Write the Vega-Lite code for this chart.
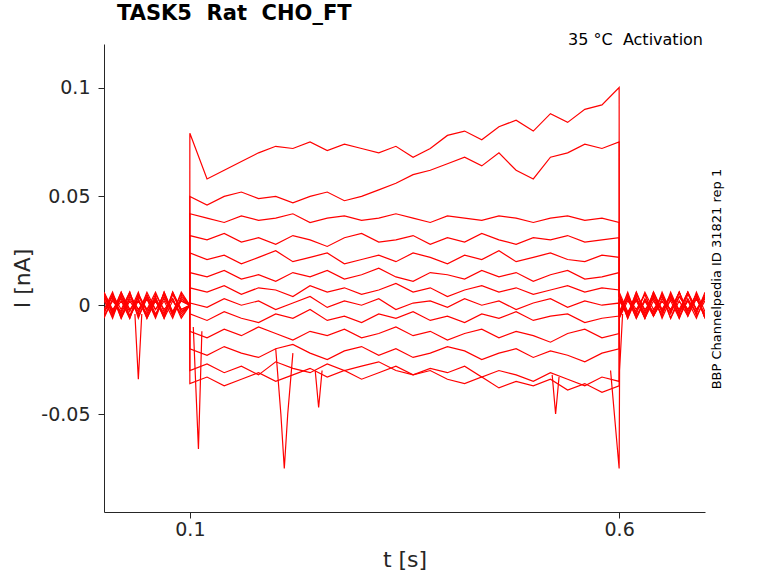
{
  "$schema": "https://vega.github.io/schema/vega-lite/v6.json",
  "width": 601,
  "height": 468,
  "autosize": {"type": "none"},
  "padding": {"left": 104, "top": 44, "right": 73, "bottom": 71},
  "background": "white",
  "config": {"font": "DejaVu Sans", "view": {"stroke": null}},
  "title": {"text": "TASK5\u00a0 Rat\u00a0 CHO_FT", "anchor": "start", "frame": "group", "dx": 13, "fontSize": 21, "fontWeight": "bold", "color": "black", "offset": 8},
  "layer": [
    {
      "data": {"values": [
        {"k": 1, "t": [0,0.01,0.02,0.03,0.04,0.05,0.06,0.07,0.08,0.09,0.0999,0.1,0.12,0.14,0.16,0.18,0.2,0.22,0.24,0.26,0.28,0.3,0.32,0.34,0.36,0.38,0.4,0.42,0.44,0.46,0.48,0.5,0.52,0.54,0.56,0.58,0.6,0.6001,0.61,0.62,0.63,0.64,0.65,0.66,0.67,0.68,0.69,0.7],
         "i": [0.004,-0.003,0.006,-0.005,0.002,-0.004,0.005,-0.002,0.003,-0.006,0.0,0.079,0.058,0.062,0.066,0.07,0.073,0.072,0.075,0.071,0.074,0.072,0.07,0.073,0.068,0.072,0.078,0.08,0.076,0.082,0.085,0.08,0.088,0.084,0.09,0.092,0.1,0.004,-0.005,0.006,-0.003,0.005,-0.006,0.003,-0.004,0.006,-0.002,0.004]},
        {"k": 2, "t": [0,0.01,0.02,0.03,0.04,0.05,0.06,0.07,0.08,0.09,0.0999,0.1,0.12,0.14,0.16,0.18,0.2,0.22,0.24,0.26,0.28,0.3,0.32,0.34,0.36,0.38,0.4,0.42,0.44,0.46,0.48,0.5,0.52,0.54,0.56,0.58,0.6,0.6001,0.61,0.62,0.63,0.64,0.65,0.66,0.67,0.68,0.69,0.7],
         "i": [-0.004,0.005,-0.002,0.006,-0.005,0.003,-0.006,0.004,-0.003,0.005,0.0,0.05,0.046,0.05,0.052,0.049,0.05,0.047,0.05,0.052,0.048,0.05,0.053,0.056,0.06,0.062,0.065,0.068,0.064,0.07,0.062,0.058,0.068,0.07,0.074,0.072,0.075,-0.005,0.004,-0.006,0.003,-0.004,0.005,-0.003,0.006,-0.005,0.003,-0.004]},
        {"k": 3, "t": [0,0.01,0.02,0.03,0.04,0.05,0.06,0.07,0.08,0.09,0.0999,0.1,0.12,0.14,0.16,0.18,0.2,0.22,0.24,0.26,0.28,0.3,0.32,0.34,0.36,0.38,0.4,0.42,0.44,0.46,0.48,0.5,0.52,0.54,0.56,0.58,0.6,0.6001,0.61,0.62,0.63,0.64,0.65,0.66,0.67,0.68,0.69,0.7],
         "i": [0.006,-0.002,0.003,-0.006,0.005,-0.003,0.002,-0.005,0.006,-0.002,0.0,0.042,0.04,0.038,0.041,0.039,0.04,0.042,0.038,0.04,0.041,0.039,0.04,0.042,0.04,0.038,0.041,0.04,0.039,0.041,0.04,0.038,0.04,0.041,0.039,0.04,0.038,0.006,-0.003,0.002,-0.006,0.004,-0.002,0.005,-0.006,0.003,-0.004,0.006]},
        {"k": 4, "t": [0,0.01,0.02,0.03,0.04,0.05,0.06,0.07,0.08,0.09,0.0999,0.1,0.12,0.14,0.16,0.18,0.2,0.22,0.24,0.26,0.28,0.3,0.32,0.34,0.36,0.38,0.4,0.42,0.44,0.46,0.48,0.5,0.52,0.54,0.56,0.58,0.6,0.6001,0.61,0.62,0.63,0.64,0.65,0.66,0.67,0.68,0.69,0.7],
         "i": [-0.003,0.004,-0.006,0.002,-0.004,0.006,-0.002,0.005,-0.005,0.003,0.0,0.032,0.03,0.033,0.029,0.031,0.028,0.032,0.03,0.027,0.031,0.033,0.029,0.03,0.032,0.028,0.031,0.029,0.033,0.03,0.028,0.031,0.03,0.032,0.029,0.03,0.031,-0.003,0.005,-0.004,0.006,-0.002,0.004,-0.006,0.002,-0.005,0.006,-0.003]},
        {"k": 5, "t": [0,0.01,0.02,0.03,0.04,0.05,0.06,0.07,0.08,0.09,0.0999,0.1,0.12,0.14,0.16,0.18,0.2,0.22,0.24,0.26,0.28,0.3,0.32,0.34,0.36,0.38,0.4,0.42,0.44,0.46,0.48,0.5,0.52,0.54,0.56,0.58,0.6,0.6001,0.61,0.62,0.63,0.64,0.65,0.66,0.67,0.68,0.69,0.7],
         "i": [0.002,-0.005,0.004,-0.003,0.006,-0.006,0.003,-0.004,0.005,-0.002,0.0,0.024,0.021,0.023,0.019,0.022,0.025,0.02,0.022,0.024,0.019,0.021,0.023,0.02,0.024,0.022,0.019,0.023,0.021,0.025,0.02,0.022,0.024,0.021,0.02,0.023,0.022,0.005,-0.004,0.003,-0.006,0.006,-0.002,0.004,-0.005,0.002,-0.003,0.005]},
        {"k": 6, "t": [0,0.01,0.02,0.03,0.04,0.05,0.06,0.07,0.08,0.09,0.0999,0.1,0.12,0.14,0.16,0.18,0.2,0.22,0.24,0.26,0.28,0.3,0.32,0.34,0.36,0.38,0.4,0.42,0.44,0.46,0.48,0.5,0.52,0.54,0.56,0.58,0.6,0.6001,0.61,0.62,0.63,0.64,0.65,0.66,0.67,0.68,0.69,0.7],
         "i": [-0.006,0.003,-0.004,0.005,-0.002,0.004,-0.005,0.006,-0.003,0.002,0.0,0.015,0.013,0.016,0.012,0.014,0.011,0.015,0.013,0.016,0.012,0.014,0.017,0.013,0.011,0.015,0.014,0.012,0.016,0.013,0.015,0.011,0.014,0.016,0.012,0.013,0.015,-0.006,0.002,-0.003,0.005,-0.005,0.003,-0.002,0.006,-0.004,0.004,-0.006]},
        {"k": 7, "t": [0,0.01,0.02,0.03,0.04,0.05,0.06,0.07,0.08,0.09,0.0999,0.1,0.12,0.14,0.16,0.18,0.2,0.22,0.24,0.26,0.28,0.3,0.32,0.34,0.36,0.38,0.4,0.42,0.44,0.46,0.48,0.5,0.52,0.54,0.56,0.58,0.6,0.6001,0.61,0.62,0.63,0.64,0.65,0.66,0.67,0.68,0.69,0.7],
         "i": [0.005,-0.004,0.002,-0.006,0.004,-0.002,0.006,-0.003,0.003,-0.005,0.0,0.008,0.006,0.009,0.005,0.008,0.007,0.004,0.009,0.006,0.008,0.005,0.007,0.01,0.006,0.008,0.004,0.007,0.009,0.006,0.008,0.005,0.007,0.009,0.006,0.008,0.007,0.004,-0.006,0.005,-0.002,0.003,-0.005,0.006,-0.003,0.002,-0.006,0.004]},
        {"k": 8, "t": [0,0.01,0.02,0.03,0.04,0.05,0.06,0.07,0.08,0.09,0.0999,0.1,0.12,0.14,0.16,0.18,0.2,0.22,0.24,0.26,0.28,0.3,0.32,0.34,0.36,0.38,0.4,0.42,0.44,0.46,0.48,0.5,0.52,0.54,0.56,0.58,0.6,0.6001,0.61,0.62,0.63,0.64,0.65,0.66,0.67,0.68,0.69,0.7],
         "i": [-0.002,0.006,-0.005,0.003,-0.003,0.005,-0.004,0.002,-0.006,0.004,0.0,0.001,-0.001,0.003,0.0,0.002,-0.002,0.001,0.004,-0.001,0.002,0.0,0.003,-0.002,0.001,0.002,-0.001,0.003,0.0,0.002,-0.002,0.001,0.003,-0.001,0.002,0.0,0.001,-0.004,0.006,-0.005,0.002,-0.003,0.005,-0.006,0.004,-0.002,0.003,-0.005]},
        {"k": 9, "t": [0,0.01,0.02,0.03,0.04,0.05,0.06,0.07,0.08,0.09,0.0999,0.1,0.12,0.14,0.16,0.18,0.2,0.22,0.24,0.26,0.28,0.3,0.32,0.34,0.36,0.38,0.4,0.42,0.44,0.46,0.48,0.5,0.52,0.54,0.56,0.58,0.6,0.6001,0.61,0.62,0.63,0.64,0.65,0.66,0.67,0.68,0.69,0.7],
         "i": [0.003,-0.006,0.005,-0.002,0.002,-0.005,0.004,-0.006,0.006,-0.003,0.0,-0.004,-0.007,-0.003,-0.006,-0.008,-0.004,-0.006,-0.002,-0.007,-0.005,-0.008,-0.004,-0.006,-0.003,-0.007,-0.005,-0.008,-0.004,-0.006,-0.003,-0.007,-0.005,-0.004,-0.008,-0.006,-0.005,0.002,-0.004,0.006,-0.005,0.004,-0.003,0.002,-0.006,0.005,-0.002,0.003]},
        {"k": 10, "t": [0,0.01,0.02,0.03,0.04,0.05,0.06,0.07,0.08,0.09,0.0999,0.1,0.12,0.14,0.16,0.18,0.2,0.22,0.24,0.26,0.28,0.3,0.32,0.34,0.36,0.38,0.4,0.42,0.44,0.46,0.48,0.5,0.52,0.54,0.56,0.58,0.6,0.6001,0.61,0.62,0.63,0.64,0.65,0.66,0.67,0.68,0.69,0.7],
         "i": [-0.005,0.002,-0.003,0.006,-0.006,0.004,-0.002,0.003,-0.004,0.006,0.0,-0.012,-0.015,-0.011,-0.014,-0.01,-0.013,-0.016,-0.012,-0.014,-0.011,-0.015,-0.013,-0.01,-0.014,-0.012,-0.016,-0.013,-0.011,-0.015,-0.012,-0.014,-0.017,-0.013,-0.011,-0.015,-0.013,-0.006,0.004,-0.002,0.005,-0.005,0.002,-0.004,0.006,-0.003,0.005,-0.006]},
        {"k": 11, "t": [0,0.01,0.02,0.03,0.04,0.05,0.06,0.07,0.08,0.09,0.0999,0.1,0.12,0.14,0.16,0.18,0.2,0.22,0.24,0.26,0.28,0.3,0.32,0.34,0.36,0.38,0.4,0.42,0.44,0.46,0.48,0.5,0.52,0.54,0.56,0.58,0.6,0.6001,0.61,0.62,0.63,0.64,0.65,0.66,0.67,0.68,0.69,0.7],
         "i": [0.004,-0.004,0.006,-0.002,0.003,-0.006,0.002,-0.005,0.005,-0.003,0.0,-0.02,-0.023,-0.019,-0.022,-0.024,-0.02,-0.018,-0.022,-0.025,-0.021,-0.019,-0.023,-0.02,-0.024,-0.022,-0.019,-0.021,-0.025,-0.022,-0.02,-0.024,-0.021,-0.023,-0.026,-0.022,-0.02,0.005,-0.006,0.003,-0.004,0.006,-0.003,0.004,-0.002,0.006,-0.005,0.002]},
        {"k": 12, "t": [0,0.01,0.02,0.03,0.04,0.05,0.06,0.07,0.08,0.09,0.0999,0.1,0.12,0.14,0.16,0.18,0.2,0.22,0.24,0.26,0.28,0.3,0.32,0.34,0.36,0.38,0.4,0.42,0.44,0.46,0.48,0.5,0.52,0.54,0.56,0.58,0.6,0.6001,0.61,0.62,0.63,0.64,0.65,0.66,0.67,0.68,0.69,0.7],
         "i": [-0.003,0.005,-0.006,0.004,-0.002,0.003,-0.005,0.006,-0.004,0.002,0.0,-0.03,-0.027,-0.031,-0.028,-0.032,-0.026,-0.029,-0.031,-0.027,-0.03,-0.028,-0.026,-0.03,-0.032,-0.029,-0.031,-0.028,-0.033,-0.03,-0.032,-0.035,-0.031,-0.034,-0.037,-0.033,-0.035,-0.004,0.003,-0.006,0.002,-0.005,0.006,-0.003,0.004,-0.002,0.005,-0.006]},
        {"k": 13, "t": [0,0.01,0.02,0.03,0.04,0.05,0.06,0.07,0.08,0.09,0.0999,0.1,0.12,0.14,0.16,0.18,0.2,0.22,0.24,0.26,0.28,0.3,0.32,0.34,0.36,0.38,0.4,0.42,0.44,0.46,0.48,0.5,0.52,0.54,0.56,0.58,0.6,0.6001,0.61,0.62,0.63,0.64,0.65,0.66,0.67,0.68,0.69,0.7],
         "i": [0.006,-0.003,0.004,-0.005,0.005,-0.002,0.003,-0.006,0.002,-0.004,0.0,-0.036,-0.033,-0.037,-0.034,-0.031,-0.035,-0.032,-0.029,-0.033,-0.03,-0.034,-0.031,-0.028,-0.032,-0.03,-0.034,-0.036,-0.033,-0.038,-0.035,-0.037,-0.034,-0.039,-0.036,-0.04,-0.037,0.003,-0.005,0.004,-0.006,0.002,-0.004,0.005,-0.003,0.006,-0.002,0.004]},
        {"k": 20, "t": [0.036,0.04,0.044], "i": [-0.004,-0.034,-0.004]},
        {"k": 21, "t": [0.104,0.11,0.114], "i": [-0.01,-0.066,-0.012]},
        {"k": 22, "t": [0.2,0.206,0.21,0.214,0.22], "i": [-0.02,-0.05,-0.075,-0.05,-0.022]},
        {"k": 23, "t": [0.59,0.6,0.6005,0.604], "i": [-0.03,-0.075,-0.03,-0.004]},
        {"k": 24, "t": [0.246,0.25,0.254], "i": [-0.03,-0.047,-0.03]},
        {"k": 25, "t": [0.522,0.526,0.53], "i": [-0.032,-0.05,-0.033]}
      ]},
      "transform": [{"flatten": ["t", "i"]}],
      "mark": {"type": "line", "color": "#ff0000", "strokeWidth": 1.2, "clip": true},
      "encoding": {
        "x": {"field": "t", "type": "quantitative", "scale": {"domain": [0, 0.7], "nice": false},
          "axis": {"values": [0.1, 0.6], "labelExpr": "format(datum.value, '.1f')", "grid": false, "title": "t [s]", "labelFontSize": 19, "titleFontSize": 22, "titleFontWeight": "normal", "labelColor": "#262626", "titleColor": "#262626", "domainColor": "#262626", "tickColor": "#262626", "tickSize": 6, "titlePadding": 10}},
        "y": {"field": "i", "type": "quantitative", "scale": {"domain": [-0.095, 0.12], "nice": false, "zero": false},
          "axis": {"values": [-0.05, 0, 0.05, 0.1], "labelExpr": "datum.value == 0 ? '0' : datum.value > 0.09 ? '0.1 ' : datum.value > 0 ? '0.05' : '-0.05'", "grid": false, "title": "I [nA]", "labelFontSize": 19, "titleFontSize": 22, "titleFontWeight": "normal", "labelColor": "#262626", "titleColor": "#262626", "domainColor": "#262626", "tickColor": "#262626", "tickSize": 6, "labelPadding": 8, "titlePadding": 6}},
        "detail": {"field": "k", "type": "nominal"}
      }
    },
    {
      "data": {"values": [{"a": 1}]},
      "mark": {"type": "text", "align": "right", "baseline": "top", "fontSize": 16, "dx": -2, "dy": -12, "color": "black"},
      "encoding": {"x": {"datum": 0.7, "type": "quantitative"}, "y": {"datum": 0.12, "type": "quantitative"}, "text": {"value": "35 °C\u00a0 Activation"}}
    },
    {
      "data": {"values": [{"a": 1}]},
      "mark": {"type": "text", "angle": 270, "align": "center", "baseline": "middle", "fontSize": 13, "dy": 12, "color": "black", "clip": false},
      "encoding": {"x": {"datum": 0.7, "type": "quantitative"}, "y": {"datum": 0.012, "type": "quantitative"}, "text": {"value": "BBP Channelpedia ID 31821 rep 1"}}
    }
  ]
}
